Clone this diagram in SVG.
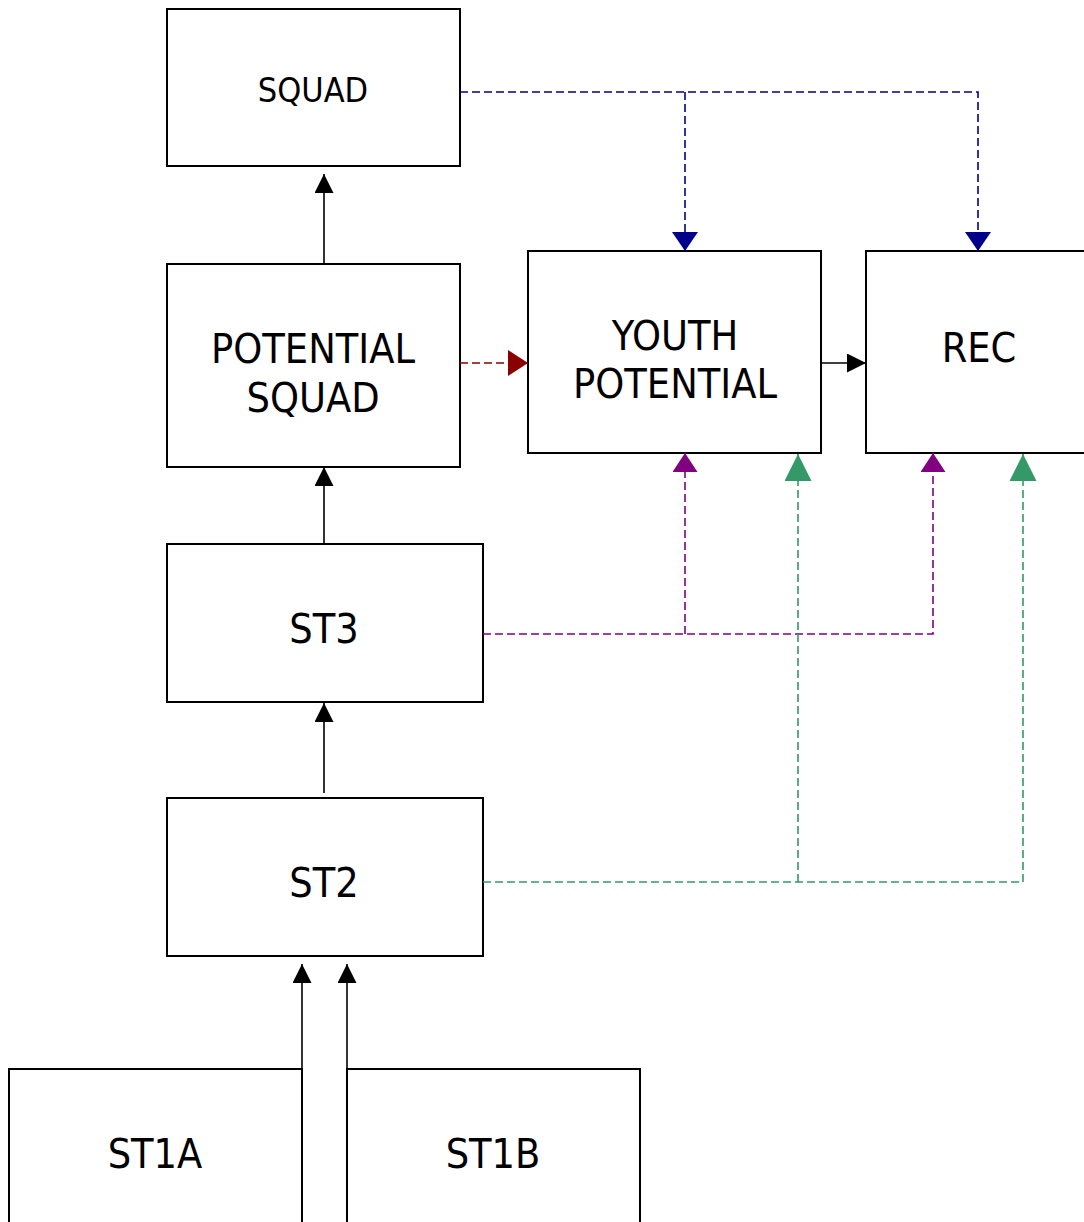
<svg xmlns="http://www.w3.org/2000/svg" width="1084" height="1222" viewBox="0 0 1084 1222">
<style>
.box{fill:#fff;stroke:#000;stroke-width:2}
.t{font-family:"DejaVu Sans Condensed","DejaVu Sans",sans-serif;font-size:41px;fill:#000;text-anchor:middle}
.c{fill:none;stroke-width:1.6}
.k{stroke:#000}
.d{stroke-dasharray:8 4}
.navy{stroke:#00008b}
.red{stroke:#8b0000}
.pur{stroke:#800080}
.grn{stroke:#339966}
</style>
<defs>
<marker id="mk" markerUnits="userSpaceOnUse" markerWidth="19" markerHeight="19" refX="19" refY="9.5" orient="auto"><path d="M0,0 L19,9.5 L0,19 z" fill="#000"/></marker>
<marker id="mn" markerUnits="userSpaceOnUse" markerWidth="19" markerHeight="26" refX="19" refY="13" orient="auto"><path d="M0,0 L19,13 L0,26 z" fill="#00008b"/></marker>
<marker id="mr" markerUnits="userSpaceOnUse" markerWidth="20" markerHeight="26" refX="20" refY="13" orient="auto"><path d="M0,0 L20,13 L0,26 z" fill="#8b0000"/></marker>
<marker id="mp" markerUnits="userSpaceOnUse" markerWidth="19" markerHeight="25" refX="19" refY="12.5" orient="auto"><path d="M0,0 L19,12.5 L0,25 z" fill="#800080"/></marker>
<marker id="mg" markerUnits="userSpaceOnUse" markerWidth="27" markerHeight="27" refX="27" refY="13.5" orient="auto"><path d="M0,0 L27,13.5 L0,27 z" fill="#339966"/></marker>
</defs>
<g id="squad"><rect class="box" x="167" y="9" width="293" height="157"/><text class="t" x="313" y="102" style="font-size:34px">SQUAD</text></g>
<g id="potential-squad"><rect class="box" x="167" y="264" width="293" height="203"/><text class="t" x="313" y="363">POTENTIAL</text><text class="t" x="313" y="412">SQUAD</text></g>
<g id="youth-potential"><rect class="box" x="528" y="251" width="293" height="202"/><text class="t" x="675" y="350">YOUTH</text><text class="t" x="675" y="398">POTENTIAL</text></g>
<g id="rec"><rect class="box" x="866" y="251" width="230" height="202"/><text class="t" x="979" y="362">REC</text></g>
<g id="st3"><rect class="box" x="167" y="544" width="316" height="158"/><text class="t" x="324" y="643">ST3</text></g>
<g id="st2"><rect class="box" x="167" y="798" width="316" height="158"/><text class="t" x="324" y="897">ST2</text></g>
<g id="st1a"><rect class="box" x="9" y="1069" width="293" height="170"/><text class="t" x="155" y="1168">ST1A</text></g>
<g id="st1b"><rect class="box" x="347" y="1069" width="293" height="170"/><text class="t" x="493" y="1168">ST1B</text></g>
<g id="connectors">
<path class="c k" d="M324,264 V174" marker-end="url(#mk)"/>
<path class="c k" d="M324,544 V467" marker-end="url(#mk)"/>
<path class="c k" d="M324,793 V703" marker-end="url(#mk)"/>
<path class="c k" d="M302,1222 V964" marker-end="url(#mk)"/>
<path class="c k" d="M347,1222 V964" marker-end="url(#mk)"/>
<path class="c k" d="M821,363 H866" marker-end="url(#mk)"/>
<path class="c d red" d="M460,363 H528" marker-end="url(#mr)"/>
<path class="c d navy" d="M460,92 H978 V251" marker-end="url(#mn)"/>
<path class="c d navy" d="M685,92 V251" marker-end="url(#mn)"/>
<path class="c d pur" d="M483,634 H933 V453" marker-end="url(#mp)"/>
<path class="c d pur" d="M685,634 V453" marker-end="url(#mp)"/>
<path class="c d grn" d="M483,882 H1023 V454" marker-end="url(#mg)"/>
<path class="c d grn" d="M798,882 V454" marker-end="url(#mg)"/>
</g>
</svg>
